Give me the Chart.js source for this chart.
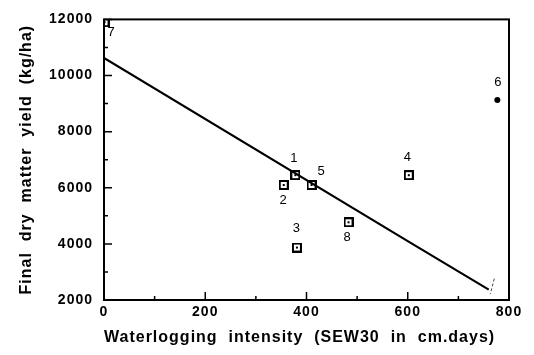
<!DOCTYPE html>
<html>
<head>
<meta charset="utf-8">
<script src="https://cdn.jsdelivr.net/npm/chart.js@4"></script>
<style>
  body { margin: 0; background: #fff; }
  canvas { display: block; }
</style>
</head>
<body>
<canvas id="yieldChart" width="534" height="355"></canvas>
<script>
// Datos
const ids = ['1', '2', '3', '4', '5', '6', '7', '8'];
const sew30 = [378, 355, 381, 602, 410, 777, 1, 483];
const yieldKg = [6450, 6100, 3870, 6450, 6100, 9130, 11900, 4770];

// recta de regresion
const fitX = [0, 600, 760];
const fitY = [10625, 4100, 2370];

// trazo suelto cerca de 770
const markX = [771, 763];
const markY = [2760, 2210];

const xTicks = [0, 200, 400, 600, 800];
const yTicks = [2000, 4000, 6000, 8000, 10000, 12000];

// simbolo: cuadrado con punto central
function boxSymbol() {
    const c = document.createElement('canvas');
    c.width = 10; c.height = 10;
    const g = c.getContext('2d');
    g.fillStyle = '#000';
    g.fillRect(0, 0, 10, 10);
    g.fillStyle = '#fff';
    g.fillRect(2, 2, 6, 6);
    g.fillStyle = '#000';
    g.fillRect(4, 4, 2, 2);
    return c;
}
const box = boxSymbol();

const labelOffsets = {
    '1': [-1, -17], '2': [0, 15], '3': [0, -19], '4': [-1, -18],
    '5': [10, -14], '6': [1, -18], '7': [7, 10], '8': [-1, 15]
};

// texto algo espaciado, como en la figura original
const spacing = {
    id: 'spacing',
    beforeDraw(chart) {
        chart.ctx.letterSpacing = '1px';
    }
};

const frameTicks = {
    id: 'frameTicks',
    afterDraw(chart) {
        const { ctx, chartArea: a, scales: { x, y } } = chart;
        ctx.save();
        ctx.strokeStyle = '#000';
        ctx.lineWidth = 2;
        ctx.strokeRect(a.left, a.top, a.right - a.left, a.bottom - a.top);
        ctx.lineWidth = 1.5;
        ctx.beginPath();
        for (let v = 0; v <= 800; v += 100) {
            const px = x.getPixelForValue(v);
            const len = v % 200 === 0 ? 8 : 4;
            ctx.moveTo(px, a.bottom);
            ctx.lineTo(px, a.bottom - len);
        }
        for (let v = 2000; v <= 12000; v += 1000) {
            const py = y.getPixelForValue(v);
            const len = v % 2000 === 0 ? 8 : 4;
            ctx.moveTo(a.left, py);
            ctx.lineTo(a.left + len, py);
        }
        ctx.stroke();
        ctx.restore();
    }
};

const pointLabels = {
    id: 'pointLabels',
    afterDatasetsDraw(chart) {
        const { ctx } = chart;
        const meta = chart.getDatasetMeta(0);
        ctx.save();
        ctx.fillStyle = '#000';
        ctx.font = '13px "Liberation Sans", Arial, sans-serif';
        ctx.textAlign = 'center';
        ctx.textBaseline = 'middle';
        meta.data.forEach((pt, i) => {
            const off = labelOffsets[ids[i]];
            ctx.fillText(ids[i], pt.x + off[0], pt.y + off[1]);
        });
        ctx.restore();
    }
};

const tickFont = { family: '"Liberation Sans", Arial, sans-serif', size: 14, weight: 'bold' };
const titleFont = { family: '"Liberation Sans", Arial, sans-serif', size: 16, weight: 'bold' };

new Chart(document.getElementById('yieldChart').getContext('2d'), {
    type: 'scatter',
    data: {
        datasets: [{
            label: 'Tratamientos',
            data: sew30.map((v, i) => ({ x: v, y: yieldKg[i] })),
            pointStyle: ctx => ids[ctx.dataIndex] === '6' ? 'circle' : box,
            pointRadius: ctx => ids[ctx.dataIndex] === '6' ? 3 : 5,
            backgroundColor: '#000',
            borderColor: '#000',
            borderWidth: 0,
            order: 1
        }, {
            label: 'Regresion',
            type: 'line',
            data: fitX.map((v, i) => ({ x: v, y: fitY[i] })),
            borderColor: '#000',
            borderWidth: 2.2,
            pointRadius: 0,
            fill: false,
            order: 0
        }, {
            label: 'Trazo',
            type: 'line',
            data: markX.map((v, i) => ({ x: v, y: markY[i] })),
            borderColor: '#444',
            borderWidth: 1,
            borderDash: [3, 2],
            pointRadius: 0,
            fill: false,
            order: 0
        }]
    },
    options: {
        responsive: false,
        animation: false,
        layout: { padding: { top: 14, right: 25, left: 0, bottom: 0 } },
        plugins: {
            legend: { display: false },
            tooltip: { enabled: false }
        },
        scales: {
            x: {
                type: 'linear',
                min: 0,
                max: 800,
                afterBuildTicks: s => { s.ticks = xTicks.map(v => ({ value: v })); },
                afterFit: s => { s.height = 55; },
                ticks: { color: '#000', font: tickFont, padding: 4, maxRotation: 0, callback: v => String(v) },
                grid: { display: false, drawTicks: false },
                border: { display: false },
                title: {
                    display: true,
                    align: 'start',
                    text: 'Waterlogging  intensity  (SEW30  in  cm.days)',
                    color: '#000',
                    font: titleFont,
                    padding: 8
                }
            },
            y: {
                min: 2000,
                max: 12000,
                afterBuildTicks: s => { s.ticks = yTicks.map(v => ({ value: v })); },
                afterFit: s => { s.width = 104; },
                ticks: { color: '#000', font: tickFont, padding: 11, callback: v => String(v) },
                grid: { display: false, drawTicks: false },
                border: { display: false },
                title: {
                    display: true,
                    text: 'Final  dry  matter  yield  (kg/ha)',
                    color: '#000',
                    font: titleFont,
                    padding: 17
                }
            }
        }
    },
    plugins: [spacing, frameTicks, pointLabels]
});
</script>
</body>
</html>
